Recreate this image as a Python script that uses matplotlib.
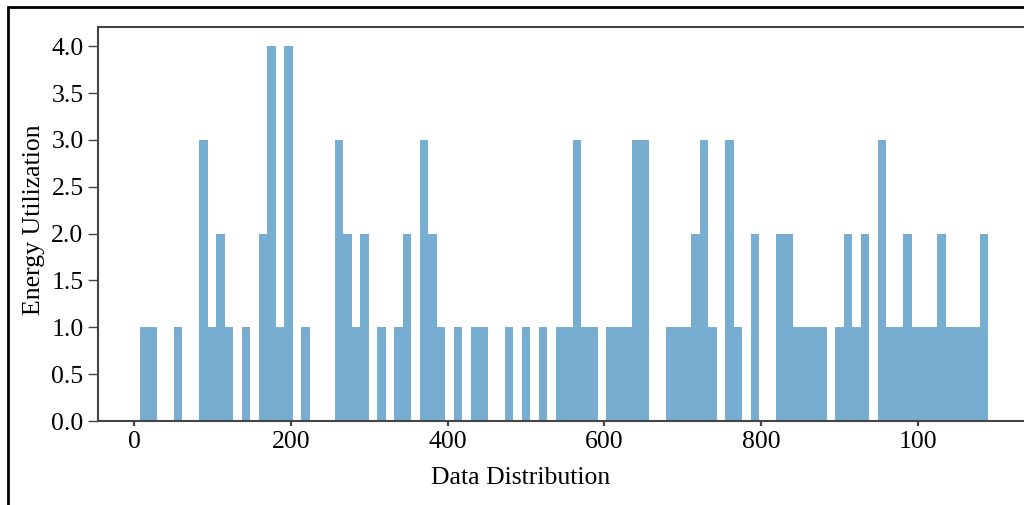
import numpy as np
import matplotlib
matplotlib.use("Agg")
import matplotlib.pyplot as plt
from matplotlib.patches import Rectangle

# ---- data (100 equal-width bins) ----
x_min, x_max = 7.4, 1090.0
n_bins = 100
counts = [1, 1, 0, 0, 1, 0, 0, 3, 1, 2,
          1, 0, 1, 0, 2, 4, 1, 4, 0, 1,
          0, 0, 0, 3, 2, 1, 2, 0, 1, 0,
          1, 2, 0, 3, 2, 1, 0, 1, 0, 1,
          1, 0, 0, 1, 0, 1, 0, 1, 0, 1,
          1, 3, 1, 1, 0, 1, 1, 1, 3, 3,
          0, 0, 1, 1, 1, 2, 3, 1, 0, 3,
          1, 0, 2, 0, 0, 2, 2, 1, 1, 1,
          1, 0, 1, 2, 1, 2, 0, 3, 1, 1,
          2, 1, 1, 1, 2, 1, 1, 1, 1, 2]
xtick_vals = [0, 200, 400, 600, 800, 1000]
xtick_labels = ['0', '200', '400', '600', '800', '100']
ytick_vals = [0.0, 0.5, 1.0, 1.5, 2.0, 2.5, 3.0, 3.5, 4.0]

plt.rcParams['font.family'] = ['Liberation Serif', 'DejaVu Serif']

W, H = 1024, 505
fig = plt.figure(figsize=(W / 100, H / 100), dpi=100, facecolor='white')

# axes runs past the right edge (reference is cropped there)
left, right, top, bottom = 97.5, 1030.5, 27.5, 421
ax = fig.add_axes([left / W, (H - bottom) / H, (right - left) / W, (bottom - top) / H])

edges = np.linspace(x_min, x_max, n_bins + 1)
ax.bar(edges[:-1], counts, width=np.diff(edges), align='edge',
       color='#1f77b4', alpha=0.6, linewidth=0)

ax.set_xlim(-46.7, 1144)
ax.set_ylim(0, 4.2)
ax.set_xticks(xtick_vals)
ax.set_xticklabels(xtick_labels)
ax.set_yticks(ytick_vals)
ax.set_yticklabels([f'{v:.1f}' for v in ytick_vals])

for s in ax.spines.values():
    s.set_color('#444444')
    s.set_linewidth(1.5)

ax.tick_params(axis='x', length=3.5, width=1.6, color='#444444', pad=3.5, labelsize=18.5)
ax.tick_params(axis='y', length=7, width=1.0, color='#444444', pad=3, labelsize=18.5)

ax.set_xlabel('Data Distribution', fontsize=18.5)
ax.set_ylabel('Energy Utilization', fontsize=18.5)
ax.xaxis.set_label_coords(0.5 * (429 + 613 - 2 * left) / (right - left), (bottom - 467) / (bottom - top))
ax.yaxis.set_label_coords((45 - left) / (right - left), (bottom - 220) / (bottom - top))

# outer frame of the screenshot (only left and top edges visible)
fig.add_artist(Rectangle((7.5 / W, -0.1), 1.2, (H - 7) / H + 0.1, transform=fig.transFigure,
                         fill=False, edgecolor='black', linewidth=2, clip_on=False))

fig.savefig('out.png', dpi=100, facecolor='white')
